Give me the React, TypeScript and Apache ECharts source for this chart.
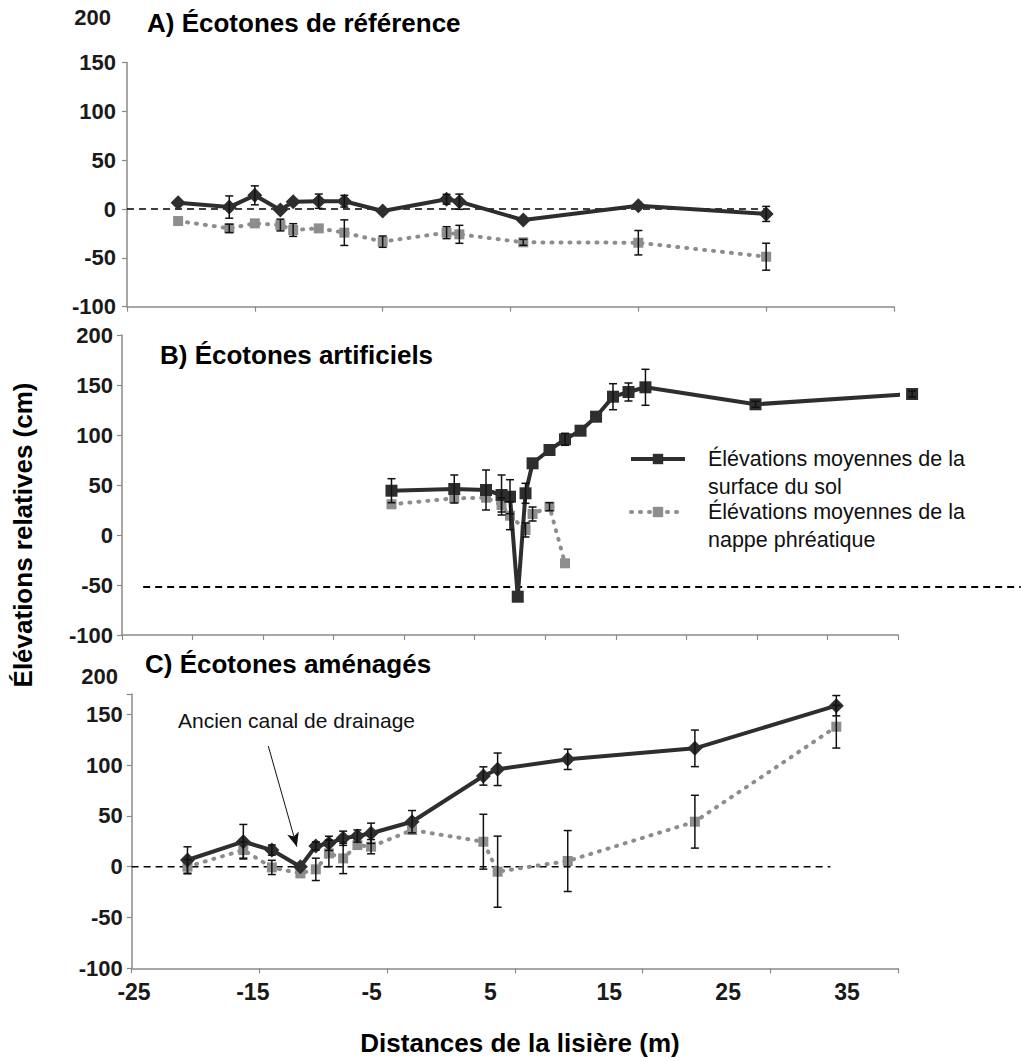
import React, { useEffect, useRef } from "react";
import * as echarts from "echarts";

// ---------- tick labels ----------
const yTickLabels = [-100, -50, 0, 50, 100, 150, 200];
const xTickLabelsC = [-25, -15, -5, 5, 15, 25, 35];

// ---------- series names ----------
const nameSol = "Élévations moyennes de la\nsurface du sol";
const nameNappe = "Élévations moyennes de la\nnappe phréatique";

// ---------- Panel A : Écotones de référence ----------
const aDist = [-21, -17, -15, -13, -12, -10, -8, -5, 0, 1, 6, 15, 25];
const aSol = [6.4, 2, 14, -1, 7.5, 8, 8, -2, 10, 7.5, -11.3, 3.4, -5];
const aSolErr = [0, 11.4, 9.7, 0, 0, 7.3, 6, 0, 5, 7.8, 0, 0, 7.7];
const aNappe = [-12.3, -19.8, -14.7, -16.4, -21.5, -19.8, -24.2, -33.4, -24.2, -25.9, -34.1, -34.5, -48.8];
const aNappeErr = [0, 4.3, 0, 6, 6.5, 0, 13.1, 5.8, 6.1, 9.2, 3, 12.5, 13.8];
const aRef = { from: -25, to: 25, y: 0 };

// ---------- Panel B : Écotones artificiels ----------
const bDistSol = [-5.9, -1.45, 0.8, 1.9, 2.5, 3.05, 3.6, 4.1, 5.3, 6.4, 7.5, 8.6, 9.8, 10.9, 12.1, 19.9, 31.0];
const bSol = [44.3, 46, 45, 40, 38.3, -61.7, 41.7, 71.7, 85, 95.7, 104.3, 118.3, 138.3, 143, 147.7, 130.7, 141];
const bSolErr = [12, 14, 20, 20, 17, 0, 10, 0, 0, 6, 0, 0, 13, 9, 18, 3, 3];
const bDistNappe = [-5.9, -1.45, 0.8, 1.9, 2.5, 3.6, 4.1, 5.3, 6.4];
const bNappe = [30.7, 36.7, 37.3, 30, 19.3, 5, 21, 28.3, -28.3];
const bNappeErr = [0, 0, 0, 7, 14, 7, 7, 4, 0];
const bRef = { from: -23.5, to: 38.7, y: -52 };

// ---------- Panel C : Écotones aménagés ----------
const cDist = [-20.5, -15.8, -13.4, -11.0, -9.7, -8.6, -7.4, -6.2, -5.05, -1.6, 4.4, 5.6, 11.5, 22.2, 34.1];
const cSol = [6.6, 24.6, 16.4, 0, 20.4, 23, 28, 30.2, 32.9, 44.3, 89.3, 95.9, 105.7, 116.5, 158.5];
const cSolErr = [13, 17, 5, 0, 4, 7, 7, 6, 10, 11, 9, 16, 10, 18, 10];
const cNappe = [0, 16.4, -0.7, -6.6, -2.6, 13.1, 8.2, 21.3, 19.7, 36.1, 24.6, -4.9, 5.6, 44.3, 137.8];
const cNappeErr = [7, 8, 7, 0, 11, 13, 15, 0, 7, 0, 27, 35, 30, 26, 21];
const cRef = { from: -25.2, to: 33.6, y: 0 };
const cArrow = { from: [-13.7, 118.8], to: [-11.3, 19.7] };

const SOL = "#2e2e2e";
const NAPPE = "#8d8d8d";
const AXIS = "#8a8a8a";
const FONT = "'Liberation Sans', Arial, Helvetica, sans-serif";

const zip = (xs: number[], ys: number[]) => xs.map((x, i) => [x, ys[i]]);
const errData = (xs: number[], ys: number[], es: number[]) =>
  xs
    .map((x, i) => [x, ys[i] - es[i], ys[i] + es[i], es[i]])
    .filter((d) => d[3] > 0)
    .map((d) => [d[0], d[1], d[2]]);

function renderErr(_params: any, api: any) {
  const x = api.value(0);
  const top = api.coord([x, api.value(2)]);
  const bot = api.coord([x, api.value(1)]);
  const w = 4;
  const st = { stroke: "#111", lineWidth: 1.5 };
  return {
    type: "group",
    children: [
      { type: "line", shape: { x1: top[0], y1: top[1], x2: bot[0], y2: bot[1] }, style: st },
      { type: "line", shape: { x1: top[0] - w, y1: top[1], x2: top[0] + w, y2: top[1] }, style: st },
      { type: "line", shape: { x1: bot[0] - w, y1: bot[1], x2: bot[0] + w, y2: bot[1] }, style: st },
    ],
  };
}

const yLabel = {
  fontSize: 22,
  fontWeight: "bold" as const,
  fontFamily: FONT,
  color: "#1a1a1a",
  margin: 9,
  formatter: (v: number) => (yTickLabels.includes(v) ? String(v) : ""),
};

const axisLine = { show: true, onZero: false, lineStyle: { color: AXIS, width: 1.5 } };
const axisTick = { show: true, length: 5, lineStyle: { color: AXIS, width: 1.2 } };

// dashed horizontal reference line, drawn through the axes' scales (not clipped)
function refLine(xi: number, ref: { from: number; to: number; y: number }, width: number) {
  return {
    type: "custom",
    xAxisIndex: xi,
    yAxisIndex: xi,
    data: [[ref.from, ref.to, ref.y]],
    silent: true,
    clip: false,
    z: 1,
    encode: { x: [0, 1], y: 2 },
    renderItem: (_p: any, api: any) => {
      const a = api.coord([api.value(0), api.value(2)]);
      const b = api.coord([api.value(1), api.value(2)]);
      return {
        type: "line",
        shape: { x1: a[0], y1: a[1], x2: b[0], y2: b[1] },
        style: { stroke: "#000", lineWidth: width, lineDash: [7, 5] },
      };
    },
  };
}

function solSeries(name: string, xi: number, xs: number[], ys: number[], symbol: string, size: number) {
  return {
    name,
    type: "line",
    xAxisIndex: xi,
    yAxisIndex: xi,
    data: zip(xs, ys),
    symbol,
    symbolSize: size,
    clip: false,
    z: 3,
    itemStyle: { color: SOL },
    lineStyle: { color: SOL, width: 4 },
  };
}

function nappeSeries(name: string, xi: number, xs: number[], ys: number[], extra: any = {}) {
  return {
    name,
    type: "line",
    xAxisIndex: xi,
    yAxisIndex: xi,
    data: zip(xs, ys),
    symbol: "rect",
    symbolSize: 10,
    clip: false,
    z: 2,
    itemStyle: { color: NAPPE },
    lineStyle: { color: NAPPE, width: 4, type: [1, 8], cap: "round" },
    ...extra,
  };
}

function errSeries(xi: number, data: number[][]) {
  return {
    type: "custom",
    xAxisIndex: xi,
    yAxisIndex: xi,
    data,
    renderItem: renderErr,
    silent: true,
    z: 4,
    encode: { x: 0, y: [1, 2] },
  };
}

function title(text: string, x: number, y: number) {
  return {
    type: "text",
    x,
    y,
    style: { text, fontSize: 26, fontWeight: "bold", fontFamily: FONT, fill: "#000", align: "left", verticalAlign: "middle" },
  };
}

function sideLabel(text: string, x: number, y: number) {
  return {
    type: "text",
    x,
    y,
    style: { text, fontSize: 22, fontWeight: "bold", fontFamily: FONT, fill: "#1a1a1a", align: "right", verticalAlign: "middle" },
  };
}

const legendBase = {
  orient: "vertical",
  left: 629,
  padding: 0,
  itemWidth: 54,
  itemHeight: 13,
  selectedMode: false,
  formatter: (name: string) => " \n" + name,
  textStyle: {
    fontSize: 21.5,
    fontFamily: FONT,
    color: "#111",
    lineHeight: 28,
    padding: [0, 0, 0, 18],
  },
};

export default function App() {
  const ref = useRef<HTMLDivElement>(null);

  useEffect(() => {
    if (!ref.current) return;
    const chart = echarts.init(ref.current, null, { renderer: "svg" });
    const option: any = {
      animation: false,
      backgroundColor: "#fff",
      grid: [
        { left: 127, right: 130, top: 62.5, bottom: 1061 - 306.7 },
        { left: 122, right: 126, top: 335, bottom: 1061 - 635 },
        { left: 131.7, right: 126, top: 694, bottom: 1061 - 968.3 },
        { left: 134, right: 177, top: 694, bottom: 1061 - 968.3 },
      ],
      xAxis: [
        { gridIndex: 0, type: "value", min: -25, max: 35, interval: 10, axisLine, axisTick, axisLabel: { show: false }, splitLine: { show: false } },
        { gridIndex: 1, type: "value", min: -25, max: 30, interval: 5, axisLine, axisTick, axisLabel: { show: false }, splitLine: { show: false } },
        { gridIndex: 2, type: "value", min: -25, max: 35, interval: 10, axisLine, axisTick, axisLabel: { show: false }, splitLine: { show: false } },
        {
          gridIndex: 3,
          type: "value",
          min: -25,
          max: 35,
          interval: 10,
          axisLine: { show: false, onZero: false },
          axisTick: { show: false },
          splitLine: { show: false },
          axisLabel: {
            fontSize: 23,
            fontWeight: "bold",
            fontFamily: FONT,
            color: "#1a1a1a",
            margin: 12,
            formatter: (v: number) => (xTickLabelsC.includes(v) ? String(v) : ""),
          },
        },
      ],
      yAxis: [
        { gridIndex: 0, type: "value", min: -100, max: 150, interval: 50, axisLine, axisTick, axisLabel: { ...yLabel, margin: 11 }, splitLine: { show: false } },
        { gridIndex: 1, type: "value", min: -100, max: 200, interval: 50, axisLine, axisTick, axisLabel: yLabel, splitLine: { show: false } },
        { gridIndex: 2, type: "value", min: -100, max: 170, interval: 50, axisLine, axisTick, axisLabel: yLabel, splitLine: { show: false } },
        { gridIndex: 3, type: "value", min: -100, max: 170, show: false, axisLine: { onZero: false }, splitLine: { show: false } },
      ],
      legend: [
        { ...legendBase, top: 417, data: [nameSol], lineStyle: { width: 4 } },
        { ...legendBase, top: 470, data: [nameNappe], lineStyle: { width: 4 } },
      ],
      series: [
        // A
        refLine(0, aRef, 1.5),
        nappeSeries("A nappe", 0, aDist, aNappe),
        solSeries("A sol", 0, aDist, aSol, "diamond", 15),
        errSeries(0, [...errData(aDist, aSol, aSolErr), ...errData(aDist, aNappe, aNappeErr)]),
        // B
        refLine(1, bRef, 2),
        nappeSeries(nameNappe, 1, bDistNappe, bNappe),
        solSeries(nameSol, 1, bDistSol, bSol, "rect", 12),
        errSeries(1, [...errData(bDistSol, bSol, bSolErr), ...errData(bDistNappe, bNappe, bNappeErr)]),
        // C
        refLine(3, cRef, 1.5),
        nappeSeries("C nappe", 3, cDist, cNappe, {
          markLine: {
            silent: true,
            symbol: ["none", "arrow"],
            symbolSize: [9, 14],
            label: { show: false },
            lineStyle: { color: "#111", width: 1, type: "solid" },
            data: [[{ coord: cArrow.from }, { coord: cArrow.to }]],
          },
        }),
        solSeries("C sol", 3, cDist, cSol, "diamond", 15),
        errSeries(3, [...errData(cDist, cSol, cSolErr), ...errData(cDist, cNappe, cNappeErr)]),
      ],
      graphic: [
        title("A) Écotones de référence", 147, 23),
        title("B) Écotones artificiels", 160, 355),
        title("C) Écotones aménagés", 145, 664),
        sideLabel("200", 111, 17),
        sideLabel("200", 118, 676),
        {
          type: "text",
          x: 178,
          y: 720,
          style: { text: "Ancien canal de drainage", fontSize: 21, fontFamily: FONT, fill: "#111", align: "left", verticalAlign: "middle" },
        },
        {
          type: "text",
          x: 520,
          y: 1043,
          style: { text: "Distances de la lisière (m)", fontSize: 26, fontWeight: "bold", fontFamily: FONT, fill: "#000", align: "center", verticalAlign: "middle" },
        },
        {
          type: "text",
          x: 23,
          y: 535,
          rotation: Math.PI / 2,
          style: { text: "Élévations relatives (cm)", fontSize: 26, fontWeight: "bold", fontFamily: FONT, fill: "#000", align: "center", verticalAlign: "middle" },
        },
      ],
    };
    chart.setOption(option);
    return () => chart.dispose();
  }, []);

  return (
    <div
      ref={ref}
      style={{ position: "absolute", left: 0, top: 0, width: 1024, height: 1061, background: "#fff" }}
    />
  );
}
